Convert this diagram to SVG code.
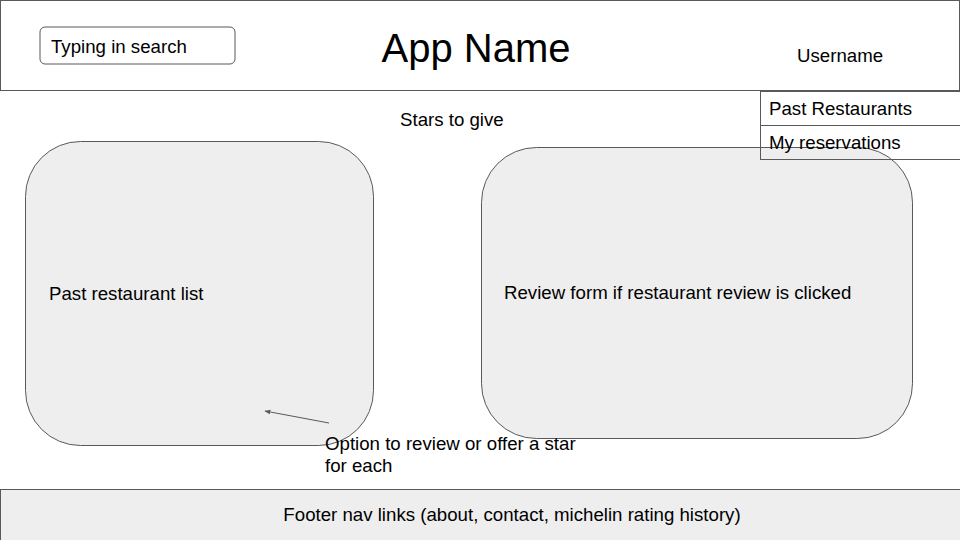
<svg xmlns="http://www.w3.org/2000/svg" width="960" height="540" viewBox="0 0 960 540">
<style>
text{font-family:"Liberation Sans",Arial,sans-serif;font-size:18.67px;fill:#000}
.ln{stroke:#595959;stroke-width:1;fill:none}
.box{stroke:#595959;stroke-width:1;fill:#eeeeee}
</style>
<defs>
<marker id="ah" viewBox="0 0 10 10" refX="9" refY="5" markerWidth="6" markerHeight="6" orient="auto" markerUnits="userSpaceOnUse">
<path d="M0,1 L10,5 L0,9 Z" fill="#595959"/>
</marker>
</defs>
<rect width="960" height="540" fill="#fff"/>
<g id="header">
<rect class="ln" x="0.5" y="0.5" width="959" height="90"/>
<text x="476" y="62" font-size="40" text-anchor="middle" style="font-size:40px">App Name</text>
</g>
<g id="search">
<rect class="ln" x="40" y="27" width="195" height="37" rx="5"/>
<text x="51" y="53">Typing in search</text>
</g>
<g id="username"><text x="797" y="62">Username</text></g>
<g id="stars"><text x="400" y="126">Stars to give</text></g>
<g id="past-list">
<rect class="box" x="25.5" y="141.5" width="348" height="304" rx="55"/>
<text x="49" y="300">Past restaurant list</text>
</g>
<g id="review-form">
<rect class="box" x="481.5" y="147.5" width="431" height="291" rx="55"/>
<text x="504" y="299">Review form if restaurant review is clicked</text>
</g>
<g id="menu">
<rect class="ln" x="760.5" y="91.5" width="200" height="34"/>
<rect class="ln" x="760.5" y="125.5" width="200" height="34"/>
<text x="769" y="115">Past Restaurants</text>
<text x="769" y="149">My reservations</text>
</g>
<g id="note">
<text x="325" y="450">Option to review or offer a star</text>
<text x="325" y="472">for each</text>
</g>
<g id="connectors">
<line x1="329" y1="423" x2="265" y2="411" stroke="#595959" stroke-width="1" marker-end="url(#ah)"/>
</g>
<g id="footer">
<rect class="box" x="0.5" y="489.5" width="960" height="52"/>
<text x="512" y="521" text-anchor="middle">Footer nav links (about, contact, michelin rating history)</text>
</g>
</svg>
